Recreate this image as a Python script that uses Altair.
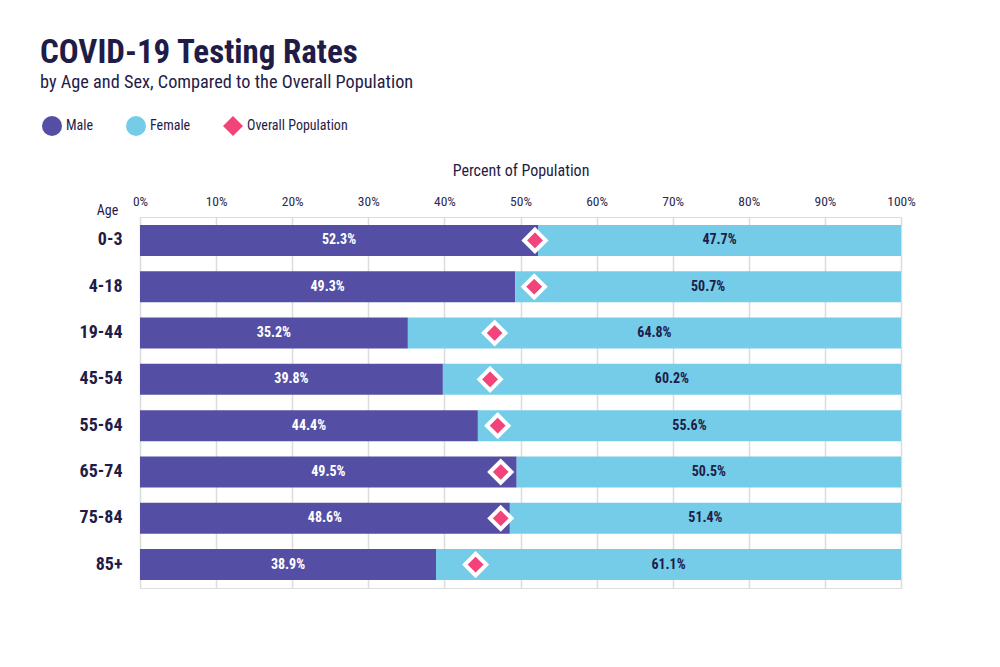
import altair as alt
import pandas as pd

# Age groups and each sex's share of tests (percent)
ages = ["0-3", "4-18", "19-44", "45-54", "55-64", "65-74", "75-84", "85+"]
male = [52.3, 49.3, 35.2, 39.8, 44.4, 49.5, 48.6, 38.9]
female = [47.7, 50.7, 64.8, 60.2, 55.6, 50.5, 51.4, 61.1]
# Male share of the overall population in each age group (percent)
overall = [51.9, 51.8, 46.6, 46.0, 47.0, 47.4, 47.4, 44.1]

series = ["Male", "Female", "Overall Population"]
colors = ["#544fa4", "#74cce9", "#f2437a"]
shapes = ["circle", "circle", "diamond"]

FONT = "Roboto Condensed, Liberation Sans Narrow, Roboto, sans-serif"
DARK = "#1f1c47"

rows = []
for a, m, f in zip(ages, male, female):
    rows.append({"age": a, "series": "Male", "value": m, "start": 0, "end": m,
                 "mid": m / 2, "label": f"{m:.1f}%"})
    rows.append({"age": a, "series": "Female", "value": f, "start": m, "end": m + f,
                 "mid": m + f / 2, "label": f"{f:.1f}%"})
bars_df = pd.DataFrame(rows)
pop_df = pd.DataFrame({"age": ages, "series": "Overall Population", "value": overall})

y_enc = alt.Y(
    "age:N", sort=ages,
    scale=alt.Scale(paddingInner=0.33, paddingOuter=0.17),
    axis=alt.Axis(
        title="Age", titleAngle=0, titleAlign="center", titleBaseline="middle",
        titleX=-33, titleY=-7, titleFont=FONT, titleFontSize=14, titleFontWeight="normal",
        titleColor=DARK, labelFont=FONT, labelFontSize=18, labelFontWeight="bold",
        labelColor=DARK, labelPadding=18, ticks=False, domain=False,
    ),
)
x_scale = alt.Scale(domain=[0, 100], nice=False)
x_axis = alt.Axis(
    orient="top", title="Percent of Population", values=list(range(0, 101, 10)),
    labelExpr="datum.value + '%'", labelFlush=False, grid=True, gridColor="#dcdcdc",
    gridWidth=1.5, ticks=False, domain=False, labelFont=FONT, labelFontSize=13.5,
    labelColor="#2c2a4f", labelPadding=9, titleFont=FONT, titleFontSize=16,
    titleFontWeight="normal", titleColor=DARK, titlePadding=16,
)

legend_opts = dict(
    title=None, orient="none", direction="horizontal", legendX=-98, legendY=-101,
    symbolSize=400, symbolStrokeWidth=0, symbolOpacity=1, labelFont=FONT,
    labelFontSize=14, labelColor=DARK, labelOffset=4, columnPadding=32,
)

color_enc = alt.Color(
    "series:N", scale=alt.Scale(domain=series, range=colors),
    legend=alt.Legend(**legend_opts),
)

bars = alt.Chart(bars_df).mark_bar(size=31).encode(
    x=alt.X("start:Q", scale=x_scale, axis=x_axis),
    x2="end:Q",
    y=y_enc,
    color=color_enc,
)

labels = alt.Chart(bars_df).mark_text(
    font=FONT, fontSize=14, fontWeight="bold"
).encode(
    x=alt.X("mid:Q", scale=x_scale),
    y=alt.Y("age:N", sort=ages),
    text="label:N",
    color=alt.condition(alt.datum.series == "Male", alt.value("#ffffff"), alt.value(DARK)),
)

diamonds = alt.Chart(pop_df).mark_point(
    filled=True, size=460, stroke="#ffffff", strokeWidth=4, opacity=1
).encode(
    x=alt.X("value:Q", scale=x_scale),
    y=alt.Y("age:N", sort=ages),
    color=color_enc,
    shape=alt.Shape(
        "series:N", scale=alt.Scale(domain=series, range=shapes),
        legend=alt.Legend(**legend_opts),
    ),
)

chart = alt.layer(bars, labels, diamonds).properties(
    width=761, height=371,
    autosize=alt.AutoSizeParams(type="none"),
    padding={"left": 140, "top": 217, "right": 99, "bottom": 79},
    title=alt.Title(
        "COVID-19 Testing Rates",
        subtitle="by Age and Sex, Compared to the Overall Population",
        anchor="start", frame="group", dx=-100, offset=25,
        font=FONT, fontSize=33, fontWeight="bold", color=DARK,
        subtitleFont=FONT, subtitleFontSize=18.3, subtitleColor=DARK, subtitlePadding=4,
    ),
).configure_view(stroke=None).configure(background="#ffffff")

chart.save("out.html", embed_options={"renderer": "svg", "actions": False})
